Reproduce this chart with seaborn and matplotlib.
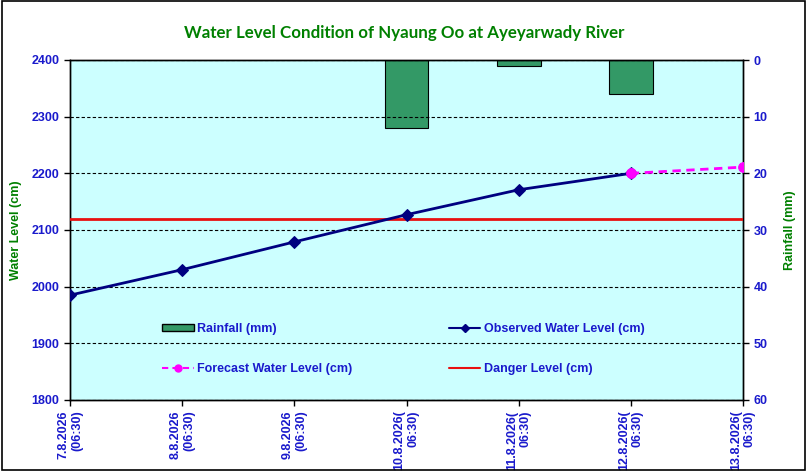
import matplotlib
matplotlib.use('Agg')
import matplotlib.pyplot as plt
import matplotlib.patches as mpatches
import matplotlib.lines as mlines
import seaborn as sns
import pandas as pd

dates = ['7.8.2026\n(06:30)', '8.8.2026\n(06:30)', '9.8.2026\n(06:30)',
         '10.8.2026(\n06:30)', '11.8.2026(\n06:30)', '12.8.2026(\n06:30)',
         '13.8.2026(\n06:30)']
observed = [1985, 2030, 2079, 2127, 2171, 2200, None]
forecast = [None, None, None, None, None, 2200, 2211]
rainfall = [0, 0, 0, 12, 1, 6, 0]
danger_level = 2120

title = 'Water Level Condition of Nyaung Oo at Ayeyarwady River'
green = '#008000'
blue = '#1a1acc'

sns.set_style('white')
plt.rcParams['font.family'] = ['Liberation Sans', 'DejaVu Sans']

fig = plt.figure(figsize=(8.07, 4.71), dpi=100)
ax = fig.add_axes([70 / 807, 1 - 400 / 471, 673 / 807, 340 / 471])

df = pd.DataFrame({'pos': range(len(dates)), 'observed': observed,
                   'forecast': forecast, 'rainfall': rainfall})

# rainfall bars on inverted right axis
ax2 = ax.twinx()
rain = df[df['rainfall'] > 0]
ax2.bar(rain['pos'], rain['rainfall'], width=0.39, color='#339966',
        edgecolor='black', linewidth=0.8, zorder=2)
ax2.set_ylim(60, 0)
ax2.set_yticks(range(0, 61, 10))

for y in range(1800, 2401, 100):
    ax.axhline(y, color='black', linestyle=(0, (3, 2)), linewidth=0.8, zorder=1)

ax.set_zorder(ax2.get_zorder() + 1)
ax.patch.set_visible(False)
ax2.patch.set_visible(True)
ax2.patch.set_facecolor('#ccffff')

ax.axhline(danger_level, color='#e81010', linewidth=2, zorder=3)
sns.lineplot(data=df.dropna(subset=['observed']), x='pos', y='observed', ax=ax,
             color='#000080', linewidth=2, marker='D', markersize=6,
             markeredgecolor='#000080', zorder=4)
sns.lineplot(data=df.dropna(subset=['forecast']), x='pos', y='forecast', ax=ax,
             color='#ff00ff', linewidth=2, linestyle=(0, (3, 2)), marker='o',
             markersize=7, markeredgecolor='#ff00ff', zorder=5)

ax.set_xlim(0, len(dates) - 1)
ax.set_ylim(1800, 2400)
ax.set_yticks(range(1800, 2401, 100))
ax.set_xticks(range(len(dates)))
ax.set_xticklabels(dates, rotation=90, multialignment='right')
ax.set_xlabel('')
ax.set_ylabel('Water Level (cm)', color=green, fontweight='bold', fontsize=9,
              labelpad=7)
ax2.set_ylabel('Rainfall (mm)', color=green, fontweight='bold', fontsize=9,
               labelpad=12)

for a in (ax, ax2):
    a.tick_params(axis='both', labelsize=9, labelcolor=blue, length=4,
                  width=1, color='black', direction='out')
    for lab in a.get_xticklabels() + a.get_yticklabels():
        lab.set_fontweight('bold')
    for s in a.spines.values():
        s.set_color('black')
        s.set_linewidth(1)
ax.tick_params(axis='x', bottom=True)
ax.tick_params(axis='y', left=True)
ax2.tick_params(axis='y', right=True)

handles = [
    mpatches.Patch(facecolor='#339966', edgecolor='black', label='Rainfall (mm)'),
    mlines.Line2D([], [], color='#ff00ff', linestyle=(0, (3, 2)), marker='o',
                  markersize=5, linewidth=1.5, label='Forecast Water Level (cm)'),
    mlines.Line2D([], [], color='#000080', marker='D', markersize=4,
                  linewidth=1.5, label='Observed Water Level (cm)'),
    mlines.Line2D([], [], color='#e81010', linewidth=1.5, label='Danger Level (cm)'),
]
leg = ax.legend(handles=handles, ncol=2, frameon=False, loc='upper left',
                bbox_to_anchor=(0.128, 0.244), handlelength=2.5, handleheight=0.5,
                handletextpad=0.3, columnspacing=7.7, labelspacing=2.2,
                borderpad=0, prop={'weight': 'bold', 'size': 9})
for t in leg.get_texts():
    t.set_color(blue)

fig.text(404 / 807, 1 - 33 / 471, title, ha='center', va='center', color=green,
         fontweight='bold', fontsize=12.2, family='Lato')

fig.patches.append(mpatches.Rectangle((0.002, 0.002), 0.996, 0.996,
                                      transform=fig.transFigure, fill=False,
                                      edgecolor='black', linewidth=1.2))

fig.savefig('out.png', dpi=100)
